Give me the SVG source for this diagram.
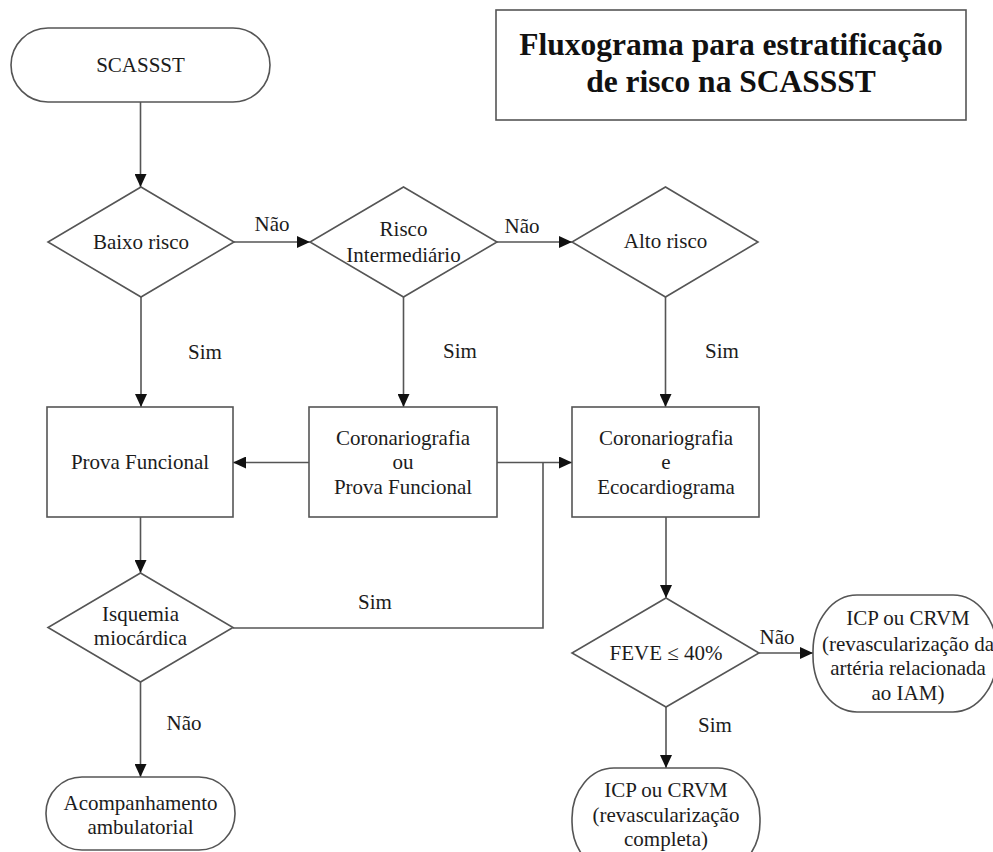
<svg xmlns="http://www.w3.org/2000/svg" width="993" height="852" viewBox="0 0 993 852">
  <defs>
    <style>
      .shape { fill: #ffffff; stroke: #555555; stroke-width: 1.6; }
      .conn { fill: none; stroke: #555555; stroke-width: 1.6; }
      .t { font-family: "Liberation Serif", "Times New Roman", serif; font-size: 21px; fill: #1c1c1c; text-anchor: middle; }
      .title { font-family: "Liberation Serif", "Times New Roman", serif; font-size: 31.5px; font-weight: bold; fill: #111111; text-anchor: middle; }
    </style>
    <marker id="arrow" markerUnits="userSpaceOnUse" markerWidth="13" markerHeight="12" refX="13" refY="6" orient="auto">
      <path d="M0,0 L13,6 L0,12 z" fill="#111111"/>
    </marker>
  </defs>
  <rect width="993" height="852" fill="#ffffff"/>

  <g id="title">
    <rect class="shape" x="496" y="10" width="470" height="110"/>
    <text class="title" x="731" y="55">Fluxograma para estratificação</text>
    <text class="title" x="731" y="92">de risco na SCASSST</text>
  </g>

  <g id="connectors">
    <path class="conn" d="M140.5,102 V187" marker-end="url(#arrow)"/>
    <path class="conn" d="M234,242 H310" marker-end="url(#arrow)"/>
    <path class="conn" d="M497,242 H572" marker-end="url(#arrow)"/>
    <path class="conn" d="M141,297 V407" marker-end="url(#arrow)"/>
    <path class="conn" d="M403.5,297 V407" marker-end="url(#arrow)"/>
    <path class="conn" d="M665.5,297 V407" marker-end="url(#arrow)"/>
    <path class="conn" d="M309,462.5 H233" marker-end="url(#arrow)"/>
    <path class="conn" d="M497,462.5 H572" marker-end="url(#arrow)"/>
    <path class="conn" d="M233,628 H543 V462.5"/>
    <path class="conn" d="M140.5,517 V573" marker-end="url(#arrow)"/>
    <path class="conn" d="M140.5,682 V777" marker-end="url(#arrow)"/>
    <path class="conn" d="M666,517 V598" marker-end="url(#arrow)"/>
    <path class="conn" d="M759,653 H813" marker-end="url(#arrow)"/>
    <path class="conn" d="M666,707 V768" marker-end="url(#arrow)"/>
    <text class="t" x="272" y="231">Não</text>
    <text class="t" x="522" y="233">Não</text>
    <text class="t" x="205" y="359">Sim</text>
    <text class="t" x="460" y="358">Sim</text>
    <text class="t" x="722" y="358">Sim</text>
    <text class="t" x="375" y="609">Sim</text>
    <text class="t" x="184" y="730">Não</text>
    <text class="t" x="777" y="644">Não</text>
    <text class="t" x="715" y="732">Sim</text>
  </g>

  <g id="scassst">
    <rect class="shape" x="11" y="28" width="259" height="74" rx="37" ry="37"/>
    <text class="t" x="140.5" y="72">SCASSST</text>
  </g>

  <g id="baixo-risco">
    <polygon class="shape" points="141,187 234,242 141,297 48,242"/>
    <text class="t" x="141" y="249">Baixo risco</text>
  </g>

  <g id="risco-intermediario">
    <polygon class="shape" points="403.5,187 497,242 403.5,297 310,242"/>
    <text class="t" x="403.5" y="236">Risco</text>
    <text class="t" x="403.5" y="262">Intermediário</text>
  </g>

  <g id="alto-risco">
    <polygon class="shape" points="665.5,187 758,242 665.5,297 572,242"/>
    <text class="t" x="665.5" y="248">Alto risco</text>
  </g>

  <g id="prova-funcional">
    <rect class="shape" x="47" y="407" width="186" height="110"/>
    <text class="t" x="140" y="469">Prova Funcional</text>
  </g>

  <g id="coronariografia-ou">
    <rect class="shape" x="309" y="407" width="188" height="110"/>
    <text class="t" x="403" y="445">Coronariografia</text>
    <text class="t" x="403" y="469">ou</text>
    <text class="t" x="403" y="494">Prova Funcional</text>
  </g>

  <g id="coronariografia-eco">
    <rect class="shape" x="572" y="407" width="187" height="110"/>
    <text class="t" x="666" y="445">Coronariografia</text>
    <text class="t" x="666" y="469">e</text>
    <text class="t" x="666" y="494">Ecocardiograma</text>
  </g>

  <g id="isquemia">
    <polygon class="shape" points="140.5,573 233,627.5 140.5,682 48,627.5"/>
    <text class="t" x="140.5" y="621">Isquemia</text>
    <text class="t" x="140.5" y="645">miocárdica</text>
  </g>

  <g id="acompanhamento">
    <rect class="shape" x="46" y="777" width="189" height="73" rx="36" ry="36"/>
    <text class="t" x="140.5" y="810">Acompanhamento</text>
    <text class="t" x="140.5" y="834">ambulatorial</text>
  </g>

  <g id="feve">
    <polygon class="shape" points="666,598 759,653 666,707 572,653"/>
    <text class="t" x="666" y="660">FEVE ≤ 40%</text>
  </g>

  <g id="icp-arteria">
    <rect class="shape" x="813" y="595" width="184" height="117" rx="44" ry="56"/>
    <text class="t" x="908" y="625">ICP ou CRVM</text>
    <text class="t" x="908" y="651">(revascularização da</text>
    <text class="t" x="908" y="675">artéria relacionada</text>
    <text class="t" x="908" y="700">ao IAM)</text>
  </g>

  <g id="icp-completa">
    <rect class="shape" x="572" y="768" width="188" height="104" rx="42" ry="50"/>
    <text class="t" x="666" y="797">ICP ou CRVM</text>
    <text class="t" x="666" y="822">(revascularização</text>
    <text class="t" x="666" y="846">completa)</text>
  </g>
</svg>
